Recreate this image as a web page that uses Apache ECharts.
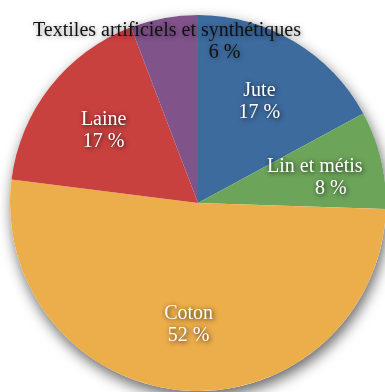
<!DOCTYPE html>
<html><head><meta charset="utf-8">
<script src="https://cdn.jsdelivr.net/npm/echarts@6/dist/echarts.min.js"></script>
<style>html,body{margin:0;padding:0;background:#fff}#c{width:385px;height:392px}</style>
</head><body><div id="c"></div>
<script>
const categories = ['Jute', 'Lin et métis', 'Coton', 'Laine', 'Textiles artificiels et synthétiques'];
const values = [17.1, 8.4, 51.5, 17.2, 5.8];
const colors = ['#3d6b9e', '#6ca55a', '#ecad4b', '#c9413f', '#80538b'];
// horizontal shift (px) of the percentage line relative to the name line
const secondLineShift = [0, 32, 0, 0, 115];

const chart = echarts.init(document.getElementById('c'), null, {renderer: 'canvas'});
const total = values.reduce((a, b) => a + b, 0);
const center = [198, 203];
const R = 188;
const fontFamily = '"Liberation Serif", "Times New Roman", serif';

function pct(v) { return Math.round(v / total * 100) + ' %'; }

const labelData = categories.map((n, i) => {
  const dark = i === 4;
  const col = dark ? '#111111' : '#ffffff';
  return {
    name: n, value: values[i],
    label: {
      textShadowColor: dark ? 'rgba(0,0,0,0.45)' : 'rgba(0,0,0,0.85)',
      formatter: p => '{a|' + p.name + '}\n{b|' + pct(p.value) + '}',
      rich: {
        a: {fontFamily: fontFamily, fontSize: 20, lineHeight: 22, color: col},
        b: {fontFamily: fontFamily, fontSize: 20, lineHeight: 22, color: col, padding: [0, 0, 0, secondLineShift[i]]}
      }
    }
  };
});

chart.setOption({
  animation: false,
  series: [
    {
      type: 'pie', silent: true, center: center, radius: [0, R],
      data: [{value: 1, itemStyle: {color: '#ffffff', shadowBlur: 14, shadowColor: 'rgba(0,0,0,0.6)', shadowOffsetX: 2, shadowOffsetY: 6}}],
      label: {show: false}, labelLine: {show: false}
    },
    {
      type: 'pie', silent: true, center: center, radius: [0, R], startAngle: 90, clockwise: true,
      data: categories.map((n, i) => ({name: n, value: values[i], itemStyle: {color: colors[i]}})),
      label: {show: false}, labelLine: {show: false},
      itemStyle: {borderWidth: 0}
    },
    {
      type: 'pie', silent: true, center: center, radius: [46, R], startAngle: 90, clockwise: true,
      data: labelData,
      itemStyle: {color: 'rgba(0,0,0,0)', borderWidth: 0},
      labelLine: {show: false},
      label: {
        show: true, position: 'inside',
        textShadowBlur: 5, textShadowOffsetX: 1, textShadowOffsetY: 1
      },
      labelLayout: function (p) {
        if (p.dataIndex === 4) {
          return {x: 167, y: 42, align: 'center', verticalAlign: 'middle'};
        }
        return {dy: 2};
      }
    }
  ]
});
</script>
</body></html>
